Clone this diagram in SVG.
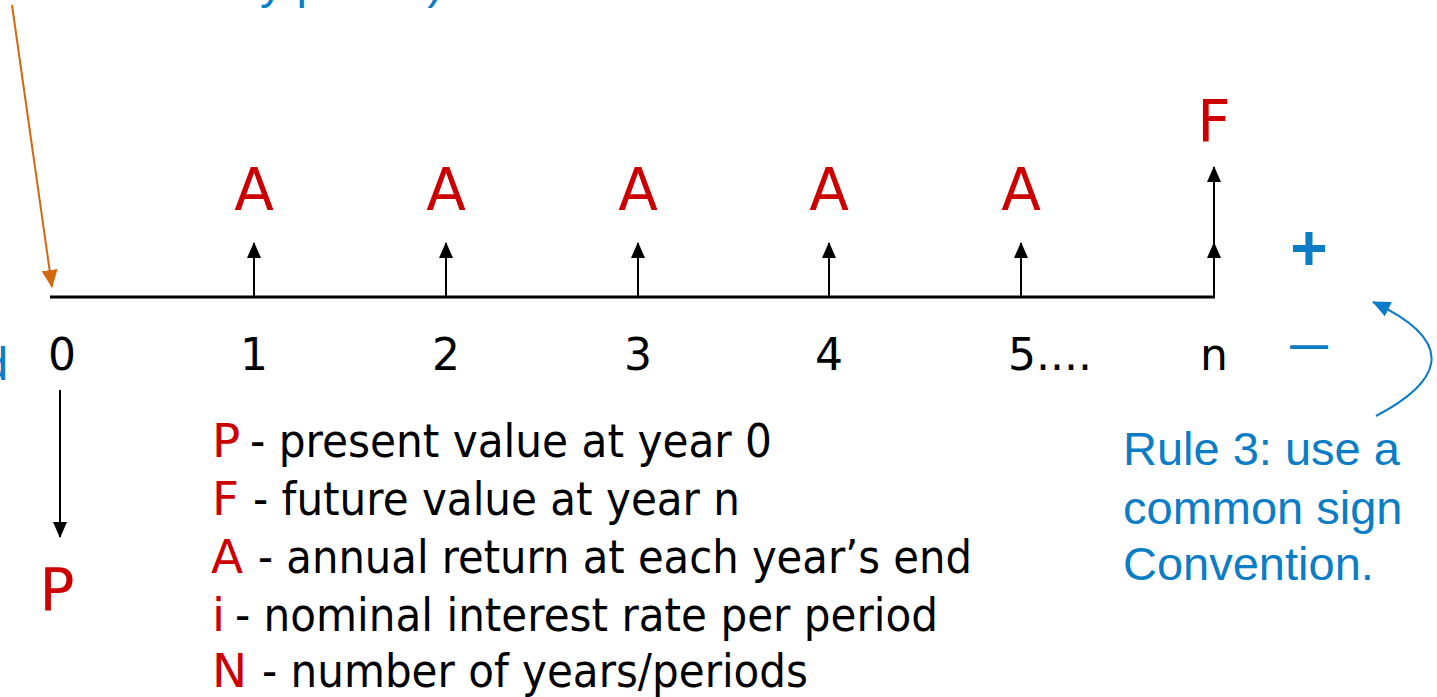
<svg xmlns="http://www.w3.org/2000/svg" width="1437" height="697" viewBox="0 0 1437 697">
<style>
.lbl{font-family:"DejaVu Sans",Verdana,sans-serif;fill:#000}
.red{fill:#cc0000}
.big{font-size:58px}
.num{font-size:44px;text-anchor:middle}
.leg{font-size:47px}
.blue{font-family:"Liberation Sans",Arial,sans-serif;fill:#0b7dc6}
.k{stroke:#000;stroke-width:2;fill:none}
</style>
<defs>
<marker id="ah" markerUnits="userSpaceOnUse" markerWidth="16" markerHeight="16" viewBox="0 0 16 16" refX="15" refY="8" orient="auto"><path d="M0,1 L16,8 L0,15 Z" fill="#000"/></marker>
<marker id="ahO" markerUnits="userSpaceOnUse" markerWidth="18" markerHeight="18" viewBox="0 0 18 18" refX="17" refY="9" orient="auto"><path d="M0,1 L18,9 L0,17 Z" fill="#d2690f"/></marker>
<marker id="ahB" markerUnits="userSpaceOnUse" markerWidth="18" markerHeight="18" viewBox="0 0 18 18" refX="17" refY="9" orient="auto"><path d="M0,1 L18,9 L0,17 Z" fill="#0b7dc6"/></marker>
</defs>

<g id="connectors">
<line x1="50" y1="297" x2="1215" y2="297" stroke="#000" stroke-width="3"/>
<line class="k" x1="254" y1="297" x2="254" y2="243" marker-end="url(#ah)"/>
<line class="k" x1="446" y1="297" x2="446" y2="243" marker-end="url(#ah)"/>
<line class="k" x1="638" y1="297" x2="638" y2="243" marker-end="url(#ah)"/>
<line class="k" x1="829" y1="297" x2="829" y2="243" marker-end="url(#ah)"/>
<line class="k" x1="1021" y1="297" x2="1021" y2="243" marker-end="url(#ah)"/>
<line class="k" x1="1214" y1="298" x2="1214" y2="243" marker-end="url(#ah)"/>
<line class="k" x1="1214" y1="245" x2="1214" y2="167" marker-end="url(#ah)"/>
<line class="k" x1="60" y1="390" x2="60" y2="537" marker-end="url(#ah)"/>
<line x1="12" y1="5" x2="52" y2="287" stroke="#d2690f" stroke-width="2" marker-end="url(#ahO)"/>
<path d="M1376,416 C1435,385 1465,345 1373,302" fill="none" stroke="#0b7dc6" stroke-width="2" marker-end="url(#ahB)"/>
</g>

<g id="top-note"><text class="blue" x="260" y="-2" font-size="47">y period)</text></g>
<g id="left-note"><text class="blue" x="-18" y="380" font-size="47">d</text></g>

<g id="cashflows">
<text class="lbl red big" x="254" y="210" text-anchor="middle">A</text>
<text class="lbl red big" x="446" y="210" text-anchor="middle">A</text>
<text class="lbl red big" x="638" y="210" text-anchor="middle">A</text>
<text class="lbl red big" x="829" y="210" text-anchor="middle">A</text>
<text class="lbl red big" x="1021" y="210" text-anchor="middle">A</text>
<text class="lbl red big" x="1214" y="142" text-anchor="middle">F</text>
<text class="lbl red big" x="57" y="610" text-anchor="middle">P</text>
</g>

<g id="periods">
<text class="lbl num" x="62" y="370">0</text>
<text class="lbl num" x="254" y="370">1</text>
<text class="lbl num" x="446" y="370">2</text>
<text class="lbl num" x="638" y="370">3</text>
<text class="lbl num" x="829" y="370">4</text>
<text class="lbl" x="1008" y="370" font-size="44">5....</text>
<text class="lbl num" x="1214" y="370">n</text>
</g>

<g id="signs">
<text class="blue" x="1309" y="270" font-size="64" font-weight="bold" text-anchor="middle">+</text>
<text class="blue" x="1309" y="358" font-size="38" font-weight="bold" text-anchor="middle">—</text>
</g>

<g id="rule3">
<text class="blue" x="1123" y="465" font-size="47">Rule 3: use a</text>
<text class="blue" x="1123" y="524" font-size="47">common sign</text>
<text class="blue" x="1123" y="580" font-size="47">Convention.</text>
</g>

<g id="legend">
<text class="lbl leg red" x="212" y="457">P</text>
<text class="lbl leg" x="250" y="457" textLength="522" lengthAdjust="spacingAndGlyphs">- present value at year 0</text>
<text class="lbl leg red" x="212" y="515">F</text>
<text class="lbl leg" x="253" y="515" textLength="487" lengthAdjust="spacingAndGlyphs">- future value at year n</text>
<text class="lbl leg red" x="211" y="573">A</text>
<text class="lbl leg" x="258" y="573" textLength="714" lengthAdjust="spacingAndGlyphs">- annual return at each year’s end</text>
<text class="lbl leg red" x="212" y="631">i</text>
<text class="lbl leg" x="235" y="631" textLength="703" lengthAdjust="spacingAndGlyphs">- nominal interest rate per period</text>
<text class="lbl leg red" x="212" y="687">N</text>
<text class="lbl leg" x="262" y="687" textLength="546" lengthAdjust="spacingAndGlyphs">- number of years/periods</text>
</g>
</svg>
